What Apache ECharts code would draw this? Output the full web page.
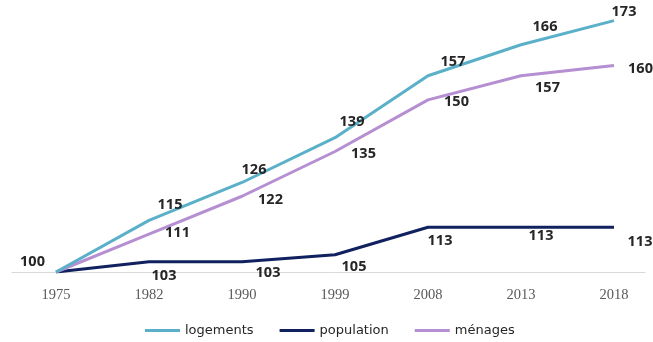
<!DOCTYPE html>
<html><head><meta charset="utf-8">
<script src="https://cdn.jsdelivr.net/npm/echarts@6/dist/echarts.min.js"></script>
<style>html,body{margin:0;padding:0;background:#fff}#c{width:653px;height:342px}</style>
</head><body><div id="c"></div>
<script>
const years = ['1975','1982','1990','1999','2008','2013','2018'];
const logements = [100,115,126,139,157,166,173];
const population = [100,103,103,105,113,113,113];
const menages = [100,111,122,135,150,157,160];

const lblBase = {show:true, color:'#262626', fontWeight:'bold', fontSize:14.5, fontFamily:'Open Sans, Liberation Sans, sans-serif'};

const logOff = [null,[21,-3],[12,0],[17,-3],[25,-1],[24,-5],[10,4]];
const menOff = [null,[11,-1],[11,4],[11,2],[11,2],[9,12],[9,3]];
const popOff = [[-6,-10],[15,2],[26,-1],[19,0],[12,1],[20,-4],[26,2]];

const logData = logements.map((v,i)=> i===0 ? {value:v, label:{show:false}} :
  {value:v, label:{position:'top', offset:logOff[i]}});
const menData = menages.map((v,i)=> i===0 ? {value:v, label:{show:false}} :
  {value:v, label:{position:'right', offset:menOff[i]}});
const popData = population.map((v,i)=> ({value:v, label:{position: i===0?'left':'bottom', offset:popOff[i]}}));

const chart = echarts.init(document.getElementById('c'));
chart.setOption({
  animation:false,
  grid:[{left:56, right:39, top:0, bottom:70},{left:12, right:8, top:0, bottom:70}],
  legend:{bottom:0, left:140, itemWidth:35, itemHeight:3, itemGap:26, icon:'rect',
    textStyle:{color:'#262626', fontSize:13, fontFamily:'DejaVu Sans, sans-serif'},
    data:['logements','population','ménages']},
  xAxis:[{type:'category', data:years, boundaryGap:false, gridIndex:0,
    axisLine:{show:false}, axisTick:{show:false},
    axisLabel:{color:'#595959', fontSize:14.5, margin:16, fontFamily:'Liberation Serif, serif'}},
    {type:'value', gridIndex:1, min:0, max:1, axisLine:{show:true, lineStyle:{color:'#d9d9d9', width:1}},
    axisTick:{show:false}, axisLabel:{show:false}, splitLine:{show:false}, z:0}],
  yAxis:[{type:'value', min:100, max:179, show:false, splitLine:{show:false}, gridIndex:0},
    {type:'value', gridIndex:1, show:false}],
  series:[
    {name:'logements', type:'line', data:logData, symbol:'circle', symbolSize:0.1, showSymbol:true, lineStyle:{width:3, color:'#5bb0c9'}, itemStyle:{color:'#5bb0c9'}, label:lblBase, z:3},
    {name:'population', type:'line', data:popData, symbol:'circle', symbolSize:0.1, showSymbol:true, lineStyle:{width:3, color:'#11205e'}, itemStyle:{color:'#11205e'}, label:lblBase, z:2},
    {name:'ménages', type:'line', data:menData, symbol:'circle', symbolSize:0.1, showSymbol:true, lineStyle:{width:3, color:'#b58fd1'}, itemStyle:{color:'#b58fd1'}, label:lblBase, z:2}
  ]
});
</script></body></html>
